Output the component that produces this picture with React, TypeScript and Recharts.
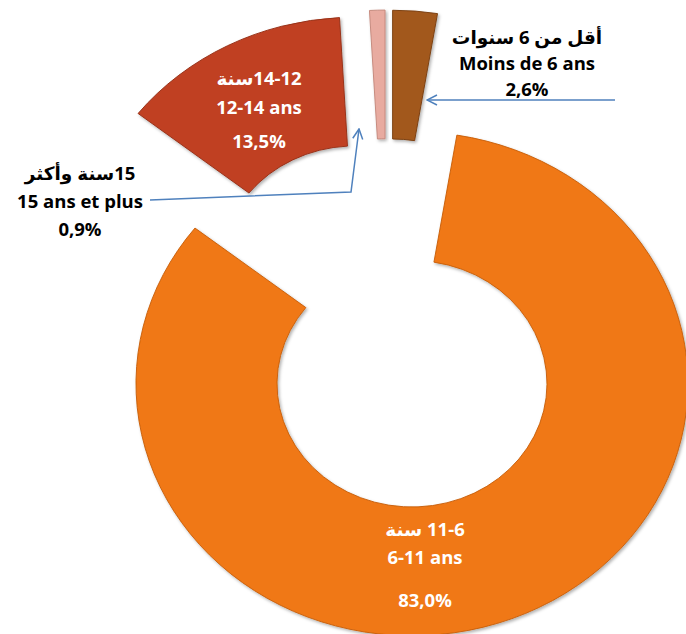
import { PieChart, Pie, Cell, Sector } from "recharts";

// age groups, clockwise from 12 o'clock
const groups = ["Moins de 6 ans", "6-11 ans", "12-14 ans", "15 ans et plus"];
const arabic = ["أقل من  6 سنوات", "11-6 سنة", "14-12سنة", "15سنة وأكثر"];
const shares = [2.6, 83.0, 13.5, 0.9];
const shareLabels = ["2,6%", "83,0%", "13,5%", "0,9%"];
const colors = ["#A2581D", "#F07814", "#C04123", "#E8ABA0"];
const edgeColors = ["#7a3f12", "#c85f0a", "#963018", "#c4887c"];

const data = groups.map((g, i) => ({ name: g, value: shares[i] }));

const EXPLODE = 69; // how far each slice is pulled out
const SQUASH = 0.913; // the source picture is a bit flattened vertically

// where the text blocks sit (line centres) and leader arrows
const labelLayout = [
  { x: 527, ys: [36, 62, 88], color: "#000", arrow: [[615, 100], [427, 100]] },
  { x: 425, ys: [528, 556, 599], color: "#fff", arrow: null },
  { x: 259, ys: [77, 106, 140], color: "#fff", arrow: null },
  { x: 80, ys: [172, 200, 228], color: "#000", arrow: [[150, 200], [351, 192], [359, 129]] },
];

const FONT = "'Open Sans', 'DejaVu Sans', sans-serif";

const ExplodedSector = (props: any) => {
  const rad = (props.midAngle * Math.PI) / 180;
  const dx = EXPLODE * Math.cos(rad);
  const dy = -EXPLODE * Math.sin(rad);
  return (
    <g transform={`scale(1, ${SQUASH}) translate(${dx}, ${dy})`} filter="url(#sliceShadow)">
      <Sector {...props} />
    </g>
  );
};

const renderLabel = (props: any) => {
  const i = props.index;
  const l = labelLayout[i];
  return (
    <g key={`lbl-${i}`}>
      {l.arrow && (
        <polyline
          points={l.arrow.map((p) => p.join(",")).join(" ")}
          fill="none"
          stroke="#4F81BD"
          strokeWidth={1.5}
          markerEnd="url(#openArrow)"
        />
      )}
      <text x={l.x} y={l.ys[0]} direction="rtl" textAnchor="middle" dominantBaseline="central"
        fill={l.color} fontFamily={FONT} fontWeight="bold" fontSize={18.5}>
        {arabic[i]}
      </text>
      <text x={l.x} y={l.ys[1]} textAnchor="middle" dominantBaseline="central"
        fill={l.color} fontFamily={FONT} fontWeight="bold" fontSize={18.5}>
        {groups[i]}
      </text>
      <text x={l.x} y={l.ys[2]} textAnchor="middle" dominantBaseline="central"
        fill={l.color} fontFamily={FONT} fontWeight="bold" fontSize={18.5}>
        {shareLabels[i]}
      </text>
    </g>
  );
};

export default function App() {
  return (
    <div style={{ position: "absolute", left: 0, top: 0, background: "#fff" }}>
      <PieChart width={686} height={634}>
        <defs>
          <filter id="sliceShadow" x="-10%" y="-10%" width="130%" height="130%">
            <feDropShadow dx="1.5" dy="2" stdDeviation="1.5" floodColor="#000" floodOpacity="0.3" />
          </filter>
          <marker id="openArrow" viewBox="0 0 12 12" refX="11" refY="6" markerWidth="12" markerHeight="12"
            markerUnits="userSpaceOnUse" orient="auto">
            <path d="M1,1 L11,6 L1,11" fill="none" stroke="#4F81BD" strokeWidth={1.5} />
          </marker>
        </defs>
        <Pie
          data={data}
          dataKey="value"
          nameKey="name"
          cx={382}
          cy={351}
          innerRadius={135}
          outerRadius={276}
          startAngle={90}
          endAngle={-270}
          shape={ExplodedSector}
          label={renderLabel}
          labelLine={false}
          isAnimationActive={false}
        >
          {data.map((d, i) => (
            <Cell key={d.name} fill={colors[i]} stroke={edgeColors[i]} strokeWidth={1} />
          ))}
        </Pie>
      </PieChart>
    </div>
  );
}
